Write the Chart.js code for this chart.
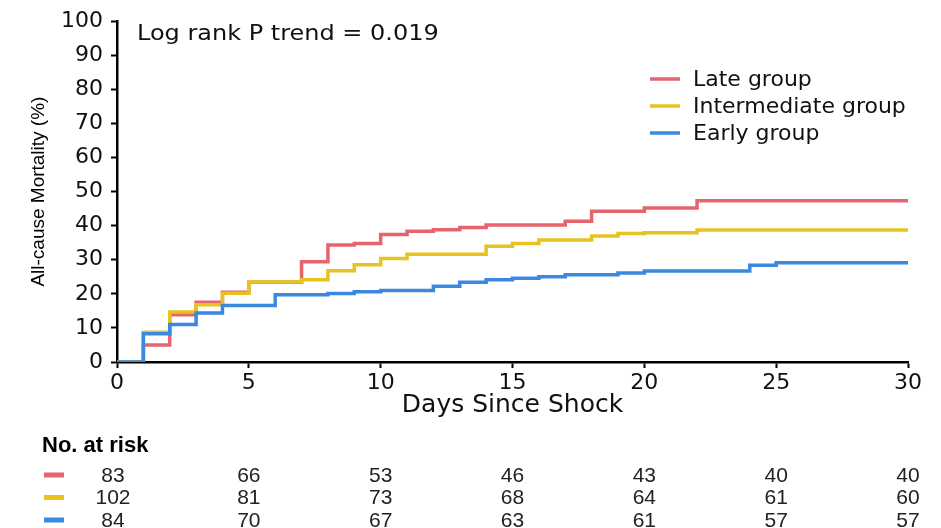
<!DOCTYPE html>
<html>
<head>
<meta charset="utf-8">
<script src="https://cdn.jsdelivr.net/npm/chart.js"></script>
<style>
  html, body { margin: 0; padding: 0; background: #fff; }
  #wrap { width: 941px; height: 528px; }
</style>
</head>
<body>
<div id="wrap"><canvas id="km" width="941" height="528"></canvas></div>
<script>
// Kaplan-Meier steps (day, cumulative mortality %)
const lateDays  = [0, 1, 2, 3, 4, 5, 7, 8, 9, 10, 11, 12, 13, 14, 17, 18, 20, 22, 30];
const lateMort  = [0, 5.0, 13.9, 17.5, 20.5, 23.4, 29.4, 34.3, 34.8, 37.4, 38.4, 38.8, 39.5, 40.2, 41.3, 44.2, 45.2, 47.3, 47.3];

const interDays = [0, 1, 2, 3, 4, 5, 7, 8, 9, 10, 11, 14, 15, 16, 18, 19, 20, 22, 30];
const interMort = [0, 8.7, 14.7, 16.8, 20.2, 23.5, 24.1, 26.8, 28.5, 30.4, 31.6, 34.0, 34.8, 35.8, 37.0, 37.7, 37.9, 38.7, 38.7];

const earlyDays = [0, 1, 2, 3, 4, 6, 8, 9, 10, 12, 13, 14, 15, 16, 17, 19, 20, 24, 25, 30];
const earlyMort = [0, 8.3, 11.0, 14.4, 16.6, 19.7, 20.1, 20.6, 21.0, 22.2, 23.4, 24.1, 24.6, 25.0, 25.6, 26.1, 26.7, 28.4, 29.1, 29.1];

const groupNames  = ['Late group', 'Intermediate group', 'Early group'];
const groupColors = ['#e5646e', '#e8c21e', '#3a88e0'];

// number at risk table
const riskDays  = [0, 5, 10, 15, 20, 25, 30];
const lateRisk  = [83, 66, 53, 46, 43, 40, 40];
const interRisk = [102, 81, 73, 68, 64, 61, 60];
const earlyRisk = [84, 70, 67, 63, 61, 57, 57];

const pText = 'Log rank P trend = 0.019';

function toPoints(days, vals) {
  return days.map((d, i) => ({ x: d, y: vals[i] }));
}

const series = [
  [lateDays, lateMort],
  [interDays, interMort],
  [earlyDays, earlyMort]
];

const narrow = '"Liberation Sans Narrow", "Arial Narrow", "Liberation Sans", sans-serif';

const extras = {
  id: 'extras',
  afterDraw(chart) {
    const ctx = chart.ctx;
    const area = chart.chartArea;
    const xs = chart.scales.x;
    ctx.save();

    // p value note (a bit wider than the font, like the original)
    ctx.fillStyle = '#111';
    ctx.font = '22px "DejaVu Sans", sans-serif';
    ctx.textBaseline = 'middle';
    ctx.textAlign = 'left';
    ctx.save();
    ctx.translate(area.left + 20, 34);
    ctx.scale(1.09, 1);
    ctx.fillText(pText, 0, 0);
    ctx.restore();

    // legend
    const lx = area.right - 258;
    chart.data.datasets.forEach((ds, i) => {
      const y = 79 + i * 27;
      ctx.strokeStyle = ds.borderColor;
      ctx.lineWidth = 3.5;
      ctx.beginPath();
      ctx.moveTo(lx, y);
      ctx.lineTo(lx + 30, y);
      ctx.stroke();
      ctx.fillStyle = '#111';
      ctx.font = '22px "DejaVu Sans", sans-serif';
      ctx.fillText(ds.label, lx + 43, y + 1);
    });

    // number at risk
    ctx.fillStyle = '#000';
    ctx.font = 'bold 22px ' + narrow;
    ctx.textAlign = 'left';
    ctx.fillText('No. at risk', 42, 446);

    const rows = [lateRisk, interRisk, earlyRisk];
    rows.forEach((row, r) => {
      const y = 475 + r * 22.5;
      ctx.strokeStyle = groupColors[r];
      ctx.lineWidth = 5;
      ctx.beginPath();
      ctx.moveTo(44, y);
      ctx.lineTo(64, y);
      ctx.stroke();
      ctx.fillStyle = '#222';
      ctx.font = '21px ' + narrow;
      ctx.textAlign = 'center';
      row.forEach((n, j) => {
        ctx.fillText(String(n), xs.getPixelForValue(riskDays[j]) - (j === 0 ? 4 : 0), y + 1);
      });
    });
    ctx.restore();
  }
};

new Chart(document.getElementById('km'), {
  type: 'line',
  data: {
    datasets: series.map((s, i) => ({
      label: groupNames[i],
      data: toPoints(s[0], s[1]),
      borderColor: groupColors[i],
      backgroundColor: groupColors[i],
      borderWidth: 3.5,
      stepped: true,
      pointRadius: 0,
      fill: false,
      order: 3 - i
    }))
  },
  options: {
    responsive: false,
    animation: false,
    devicePixelRatio: 1,
    layout: { padding: { left: 27, top: 18, right: 33, bottom: 108 } },
    plugins: {
      legend: { display: false },
      tooltip: { enabled: false }
    },
    scales: {
      x: {
        type: 'linear',
        min: 0,
        max: 30,
        ticks: {
          stepSize: 5,
          color: '#111',
          padding: 2,
          font: { family: 'DejaVu Sans', size: 22 }
        },
        grid: { drawOnChartArea: false, drawTicks: true, tickLength: 6, tickColor: '#000', tickWidth: 2 },
        border: { color: '#000', width: 2.5 },
        title: {
          display: true,
          text: 'Days Since Shock',
          color: '#111',
          padding: 0,
          font: { family: 'DejaVu Sans', size: 25 }
        },
        afterFit(scale) { scale.height = 58; }
      },
      y: {
        min: 0,
        max: 100,
        ticks: {
          stepSize: 10,
          color: '#111',
          padding: 8,
          font: { family: 'DejaVu Sans', size: 22 }
        },
        grid: { drawOnChartArea: false, drawTicks: true, tickLength: 6, tickColor: '#000', tickWidth: 2 },
        border: { color: '#000', width: 2.5 },
        title: {
          display: true,
          text: 'All-cause Mortality (%)',
          color: '#000',
          padding: 0,
          font: { family: 'Liberation Sans', size: 19 }
        },
        afterFit(scale) { scale.width = 90; }
      }
    }
  },
  plugins: [extras]
});
</script>
</body>
</html>
